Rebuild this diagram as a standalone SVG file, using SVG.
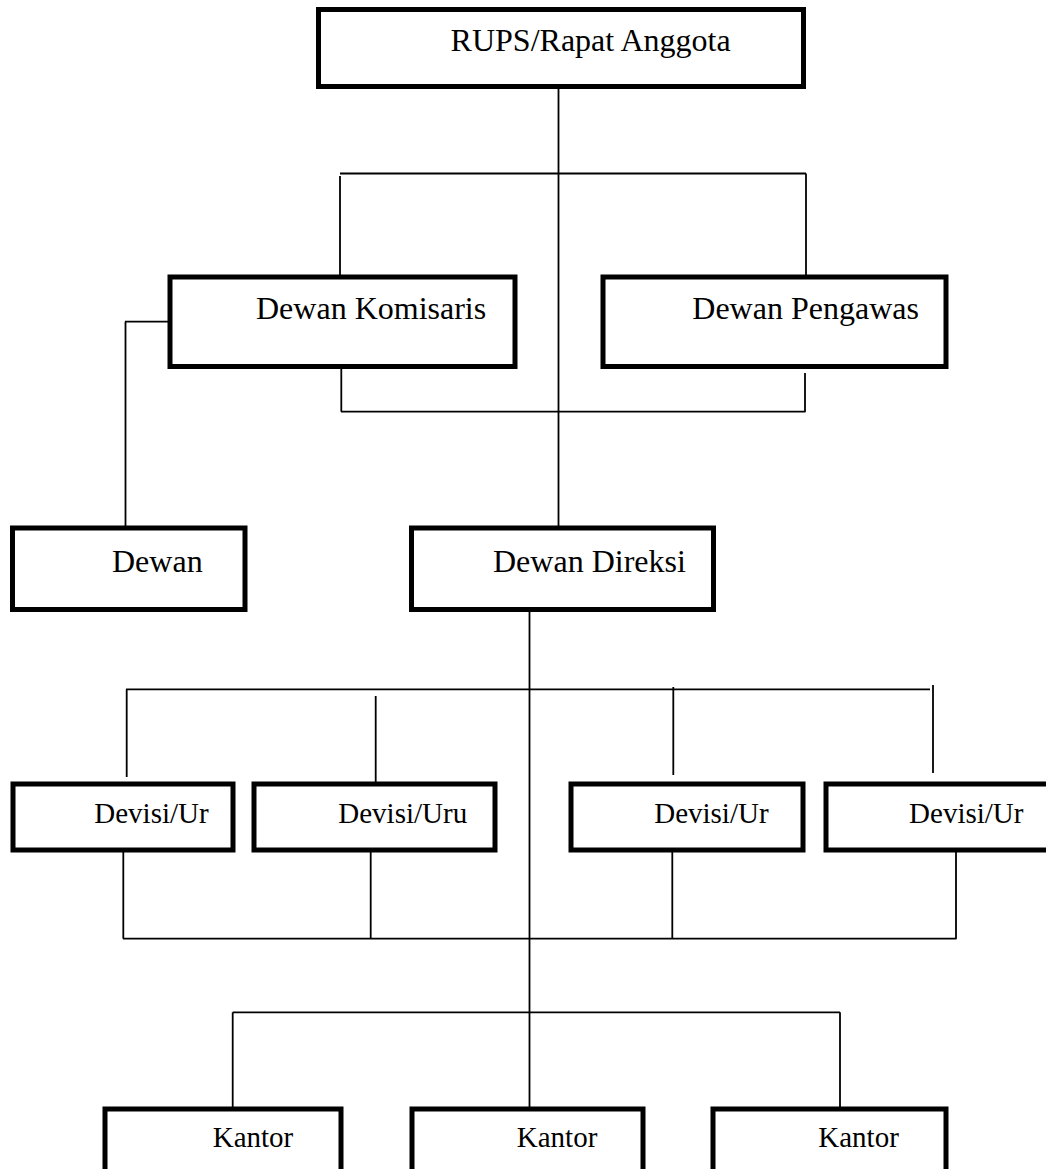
<svg xmlns="http://www.w3.org/2000/svg" width="1046" height="1169" viewBox="0 0 1046 1169">
<style>
.box{fill:#fff;stroke:#000;stroke-width:5}
.t{font-family:"Liberation Serif","Times New Roman",serif;fill:#000}
.big{font-size:32px}
.sm{font-size:29px}
.c line{stroke:#000;stroke-width:1.8}
</style>
<rect width="1046" height="1169" fill="#fff"/>
<g id="connectors" class="c">
<line x1="558.5" y1="89" x2="558.5" y2="528"/>
<line x1="340" y1="173.5" x2="806" y2="173.5"/>
<line x1="340" y1="176" x2="340" y2="277"/>
<line x1="806" y1="173.5" x2="806" y2="279"/>
<line x1="125" y1="321.7" x2="170" y2="321.7"/>
<line x1="125.5" y1="321.7" x2="125.5" y2="528"/>
<line x1="341.3" y1="369" x2="341.3" y2="411.7"/>
<line x1="341" y1="411.7" x2="805.5" y2="411.7"/>
<line x1="805" y1="373" x2="805" y2="411.7"/>
<line x1="529.5" y1="606" x2="529.5" y2="1109"/>
<line x1="126" y1="689.3" x2="930" y2="689.3"/>
<line x1="126.7" y1="689.3" x2="126.7" y2="777"/>
<line x1="375.7" y1="696" x2="375.7" y2="784"/>
<line x1="673.3" y1="687" x2="673.3" y2="775"/>
<line x1="933" y1="685" x2="933" y2="773"/>
<line x1="123.3" y1="845" x2="123.3" y2="938.7"/>
<line x1="370.7" y1="852" x2="370.7" y2="938.7"/>
<line x1="672.3" y1="852" x2="672.3" y2="938.7"/>
<line x1="956" y1="852" x2="956" y2="938.7"/>
<line x1="123" y1="938.7" x2="956.5" y2="938.7"/>
<line x1="232.7" y1="1012.3" x2="840" y2="1012.3"/>
<line x1="232.7" y1="1012.3" x2="232.7" y2="1109"/>
<line x1="840" y1="1012.3" x2="840" y2="1109"/>
</g>
<g id="rups"><rect class="box" x="318.5" y="9.5" width="485" height="77"/><text class="t big" x="450.6" y="51">RUPS/Rapat Anggota</text></g>
<g id="komisaris"><rect class="box" x="170" y="277" width="345" height="89.5"/><text class="t big" x="256" y="319.3">Dewan Komisaris</text></g>
<g id="pengawas"><rect class="box" x="603" y="277" width="343" height="89.5"/><text class="t big" x="692.3" y="319.3">Dewan Pengawas</text></g>
<g id="dewan"><rect class="box" x="12.5" y="528" width="232.5" height="81.5"/><text class="t big" x="112" y="571.7">Dewan</text></g>
<g id="direksi"><rect class="box" x="411.5" y="528" width="302" height="81.5"/><text class="t big" x="493" y="571.7">Dewan Direksi</text></g>
<g id="devisi1"><rect class="box" x="13" y="784" width="220" height="66"/><text class="t sm" x="94.3" y="822.7">Devisi/Ur</text></g>
<g id="devisi2"><rect class="box" x="254" y="784" width="241" height="66"/><text class="t sm" x="338.3" y="822.7">Devisi/Uru</text></g>
<g id="devisi3"><rect class="box" x="571" y="784" width="232" height="66"/><text class="t sm" x="654.2" y="822.7">Devisi/Ur</text></g>
<g id="devisi4"><rect class="box" x="826" y="784" width="240" height="66"/><text class="t sm" x="909.1" y="822.7">Devisi/Ur</text></g>
<g id="kantor1"><rect class="box" x="105" y="1109" width="236" height="100"/><text class="t sm" x="212.7" y="1146.7">Kantor</text></g>
<g id="kantor2"><rect class="box" x="412" y="1109" width="231" height="100"/><text class="t sm" x="516.8" y="1146.7">Kantor</text></g>
<g id="kantor3"><rect class="box" x="713" y="1109" width="233" height="100"/><text class="t sm" x="818.3" y="1146.7">Kantor</text></g>
</svg>
